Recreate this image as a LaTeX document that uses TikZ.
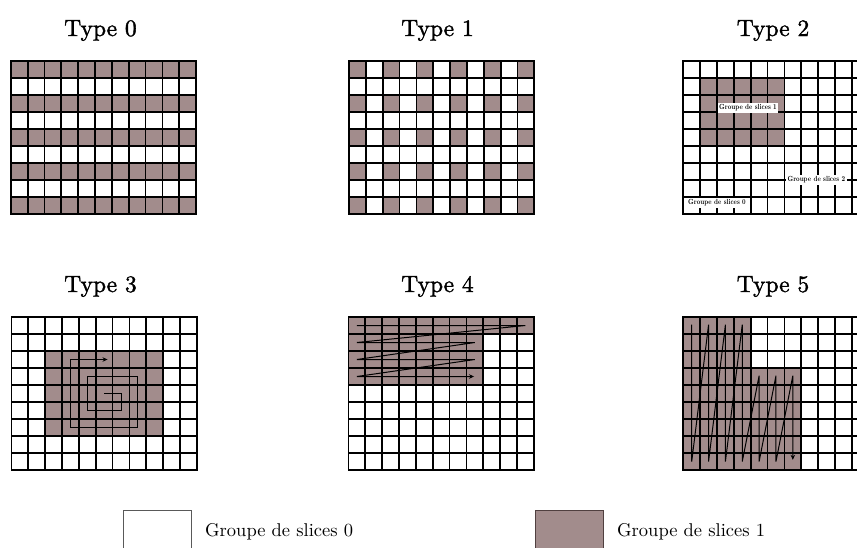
\documentclass[tikz,border=0pt]{standalone}
\usetikzlibrary{arrows.meta}
\definecolor{slicefill}{RGB}{162,140,140}
\definecolor{legedge}{RGB}{80,64,64}
\font\titlefnt="[lmroman10-regular]:embolden=1.6" at 23.5pt
\font\legfnt="[lmroman10-regular]" at 18.5pt
\font\lblfnt="[lmroman10-bold]:extend=0.84" at 7.4pt
\tikzset{
  gridline/.style={line width=1.75pt, black},
  gridborder/.style={line width=1.8pt, black},
  filled/.style={fill=slicefill},
  scanpath/.style={line width=1pt, black},
  scanarrow/.style={scanpath, -{Stealth[length=5pt,width=4.5pt]}},
  titletext/.style={anchor=base, font=\titlefnt, inner sep=0pt},
  lbl/.style={font=\lblfnt, fill=white, inner sep=1.3pt},
  legbox/.style={line width=0.9pt, minimum width=68pt, minimum height=50pt, inner sep=0pt},
  legtext/.style={anchor=base west, font=\legfnt, inner sep=0pt},
}
\newcommand\slicegrid{%
  \foreach \i in {1,...,10} \draw[gridline] (\i,0) -- (\i,9);
  \foreach \j in {1,...,8} \draw[gridline] (0,\j) -- (11,\j);
  \draw[gridborder] (0,0) rectangle (11,9);
}
\begin{document}
\begin{tikzpicture}[x=1pt,y=-1pt]
\clip (0,0) rectangle (857,547);
\fill[white] (0,0) rectangle (857,547);

% ---------- Type 0
\node[titletext] (t0) at (100.5,36) {Type 0};
\begin{scope}[shift={(10.8,61)},x=16.85pt,y=-17pt]
  \foreach \r in {0,2,...,8} \fill[filled] (0,\r) rectangle (11,\r+1);
  \slicegrid
\end{scope}

% ---------- Type 1
\node[titletext] (t1) at (437.5,36) {Type 1};
\begin{scope}[shift={(349,61)},x=16.85pt,y=-17pt]
  \foreach \r in {0,2,...,8} \foreach \c in {0,2,...,10} \fill[filled] (\c,\r) rectangle ++(1,1);
  \slicegrid
\end{scope}

% ---------- Type 2
\node[titletext] (t2) at (773,36) {Type 2};
\begin{scope}[shift={(683.3,61)},x=16.85pt,y=-17pt]
  \fill[filled] (1,1) rectangle (6,5);
  \slicegrid
  \node[lbl] (g1) at (3.84,2.76) {Groupe de slices 1};
  \node[lbl] (g2) at (7.9,7) {Groupe de slices 2};
  \node[lbl] (g0) at (2.0,8.35) {Groupe de slices 0};
\end{scope}

% ---------- Type 3
\node[titletext] (t3) at (100.5,292) {Type 3};
\begin{scope}[shift={(11.5,317)},x=16.85pt,y=-17pt]
  \fill[filled] (2,2) rectangle (9,7);
  \slicegrid
  \draw[scanarrow] (5.5,4.5) -- (6.5,4.5) -- (6.5,5.5) -- (4.5,5.5) -- (4.5,3.5)
     -- (7.5,3.5) -- (7.5,6.5) -- (3.5,6.5) -- (3.5,2.5) -- (5.7,2.5);
\end{scope}

% ---------- Type 4
\node[titletext] (t4) at (437.5,292) {Type 4};
\begin{scope}[shift={(348.5,317)},x=16.85pt,y=-17pt]
  \fill[filled] (0,0) rectangle (11,1);
  \fill[filled] (0,1) rectangle (8,4);
  \slicegrid
  \draw[scanarrow] (0.5,0.5) -- (10.5,0.5) -- (0.5,1.5) -- (7.5,1.5) -- (0.5,2.5)
     -- (7.5,2.5) -- (0.5,3.5) -- (7.45,3.5);
\end{scope}

% ---------- Type 5
\node[titletext] (t5) at (773,292) {Type 5};
\begin{scope}[shift={(683.3,317)},x=16.85pt,y=-17pt]
  \fill[filled] (0,0) rectangle (4,9);
  \fill[filled] (4,3) rectangle (7,9);
  \slicegrid
  \draw[scanarrow] (0.5,0.45) -- (0.5,8.5) -- (1.5,0.45) -- (1.5,8.5) -- (2.5,0.45)
     -- (2.5,8.5) -- (3.5,0.45) -- (3.5,8.5) -- (4.5,3.45) -- (4.5,8.5) -- (5.5,3.45)
     -- (5.5,8.5) -- (6.5,3.45) -- (6.5,8.4);
\end{scope}

% ---------- Legend
\node[legbox, draw=black!65, fill=white, anchor=north west] (k0) at (123,510) {};
\node[legtext] (k0t) at (205,536) {Groupe de slices 0};
\node[legbox, draw=legedge, fill=slicefill, anchor=north west] (k1) at (534.5,510) {};
\node[legtext] (k1t) at (617,536) {Groupe de slices 1};
\end{tikzpicture}
\end{document}
